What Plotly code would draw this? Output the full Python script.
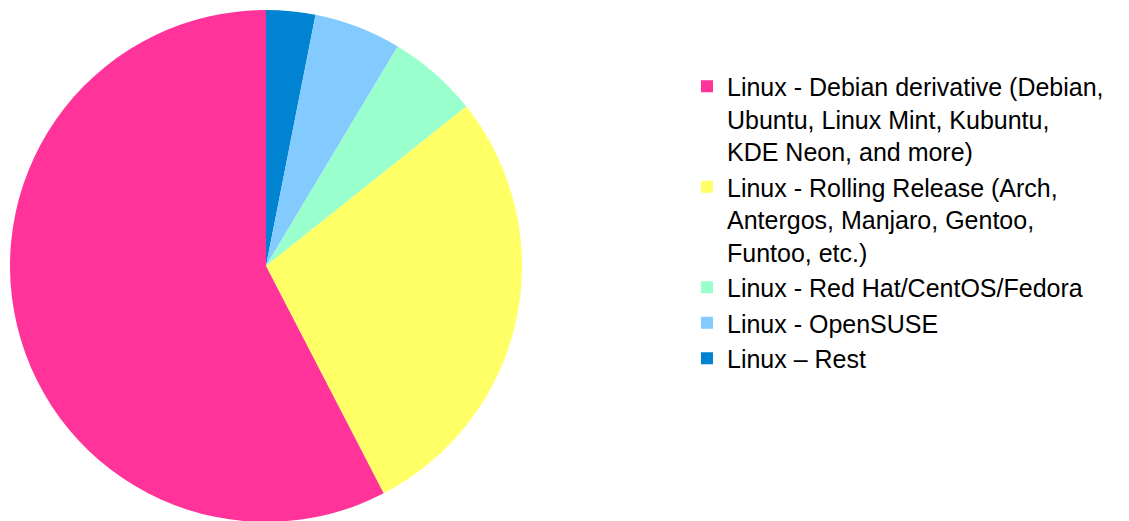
import plotly.graph_objects as go

# slices listed clockwise from 12 o'clock; legend shown reversed
labels = [
    "Linux \u2013 Rest",
    "Linux - OpenSUSE",
    "Linux - Red Hat/CentOS/Fedora",
    "Linux - Rolling Release (Arch,<br>Antergos, Manjaro, Gentoo,<br>Funtoo, etc.)",
    "Linux - Debian derivative (Debian,<br>Ubuntu, Linux Mint, Kubuntu,<br>KDE Neon, and more)",
]
values = [3.1, 5.5, 5.7, 28.1, 57.6]
colors = ["#0084d1", "#83caff", "#99ffcc", "#ffff66", "#ff3399"]

fig = go.Figure()
fig.add_trace(go.Pie(
    labels=labels,
    values=values,
    sort=False,
    direction="clockwise",
    rotation=0,
    marker=dict(colors=colors, line=dict(width=0)),
    textinfo="none",
    hoverinfo="label+percent",
    domain=dict(x=[2 / 1129, 514 / 1129], y=[0, 1]),
))

fig.update_layout(
    width=1129,
    height=521,
    margin=dict(l=0, r=0, t=2, b=7),
    paper_bgcolor="white",
    plot_bgcolor="white",
    font=dict(family="Liberation Sans, Arial, sans-serif", size=25, color="black"),
    legend=dict(
        x=0.6014, y=0.8955, xanchor="left", yanchor="top",
        font=dict(size=25),
        valign="top",
        traceorder="reversed",
        bgcolor="rgba(0,0,0,0)",
    ),
)

fig.write_html("out.html")
